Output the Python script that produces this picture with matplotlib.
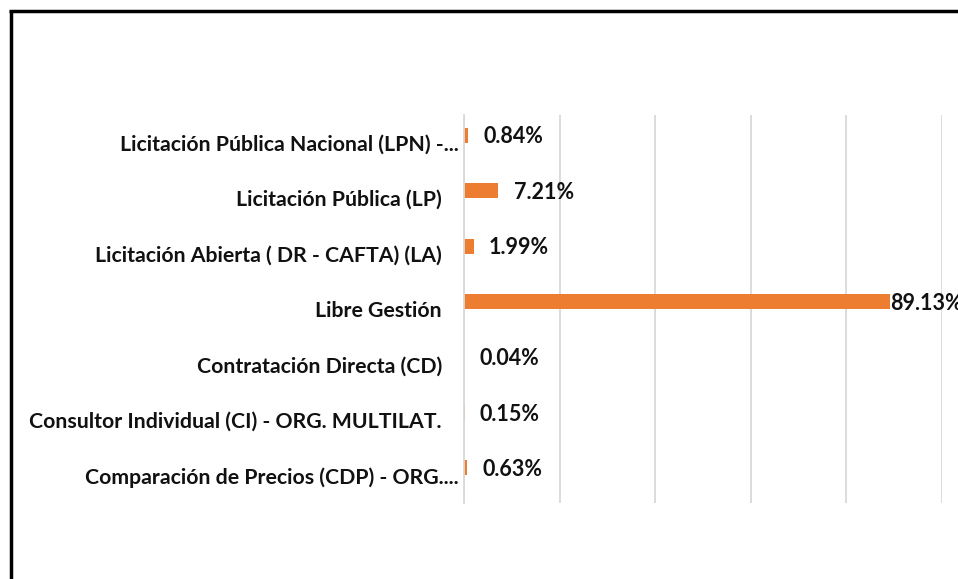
import numpy as np
import matplotlib
matplotlib.use("Agg")
import matplotlib.pyplot as plt
from matplotlib.lines import Line2D
from matplotlib.transforms import ScaledTranslation

# data, top to bottom as shown
categories = [
    "Licitación Pública Nacional (LPN) -...",
    "Licitación Pública (LP)",
    "Licitación Abierta ( DR - CAFTA) (LA)",
    "Libre Gestión",
    "Contratación Directa (CD)",
    "Consultor Individual (CI) - ORG. MULTILAT.",
    "Comparación de Precios (CDP) - ORG....",
]
shares = [0.84, 7.21, 1.99, 89.13, 0.04, 0.15, 0.63]
x_ticks = [0, 20, 40, 60, 80, 100]

ORANGE = "#ED7D31"
GRID = "#D9D9D9"
FONT = ["Lato", "DejaVu Sans"]

plt.rcParams["font.family"] = FONT
fig = plt.figure(figsize=(9.58, 5.79), dpi=100)
ax = fig.add_axes([464 / 958, 1 - 503 / 579, (942 - 464) / 958, (503 - 115) / 579])

y = np.arange(len(categories))
bar_h = 0.27
bars = ax.barh(y - bar_h / 2, shares, height=bar_h, color=ORANGE)

ax.set_ylim(len(categories) - 0.5, -0.5)
ax.set_xlim(x_ticks[0], x_ticks[-1])
ax.set_xticks(x_ticks)
ax.set_xticklabels([])
ax.tick_params(axis="x", length=0)
ax.set_yticks(y)
ax.set_yticklabels(categories, fontsize=15.3, fontweight="bold", color="#111111")
ax.tick_params(axis="y", length=0, pad=16)
ax.grid(True, axis="x", color=GRID, linewidth=1.3)
ax.set_axisbelow(True)
for s in ["top", "right", "bottom"]:
    ax.spines[s].set_visible(False)
ax.spines["left"].set_color(GRID)
ax.spines["left"].set_linewidth(1.3)

# truncated labels overflow a bit further to the right
for lbl in ax.get_yticklabels():
    if lbl.get_text().endswith("..."):
        lbl.set_transform(lbl.get_transform() + ScaledTranslation(0.17, 0, fig.dpi_scale_trans))

# data labels
for bar, v in zip(bars, shares):
    pad = 0 if v > 80 else 11
    ax.annotate(f"{v:.2f}%", xy=(bar.get_width(), bar.get_y() + bar.get_height() / 2),
                xytext=(pad, -1.2), textcoords="offset points", ha="left", va="center",
                fontsize=15.5, fontweight="bold", color="#111111", annotation_clip=False)

# frame of the pasted chart (left and top edges visible)
fig.add_artist(Line2D([10.5 / 958, 10.5 / 958], [0, 1 - 10.5 / 579], transform=fig.transFigure,
                      color="black", linewidth=2.5, solid_capstyle="butt"))
fig.add_artist(Line2D([9.2 / 958, 1], [1 - 10.5 / 579, 1 - 10.5 / 579], transform=fig.transFigure,
                      color="black", linewidth=2.5, solid_capstyle="butt"))

fig.savefig("out.png", dpi=100)
